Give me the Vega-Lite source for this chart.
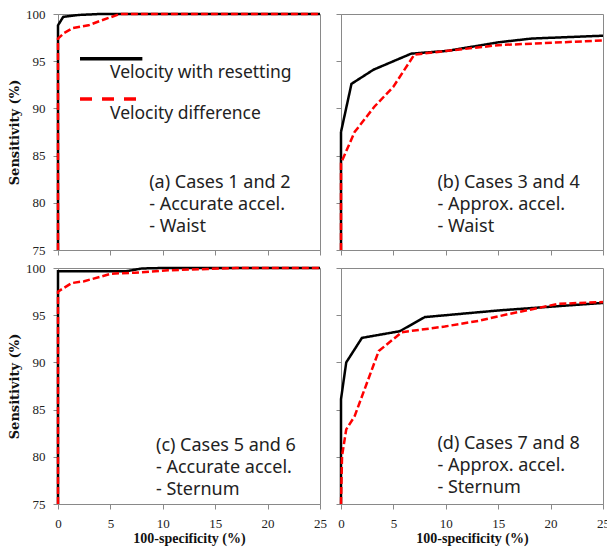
{
  "$schema": "https://vega.github.io/schema/vega-lite/v6.json",
  "padding": {"left": 8, "top": 7, "right": 0, "bottom": 5},
  "autosize": {"type": "pad"},
  "background": "white",
  "datasets": {
    "roc": [
      {"panel": "a", "series": "Velocity with resetting", "i": 0, "x": 0, "y": 75},
      {"panel": "a", "series": "Velocity with resetting", "i": 1, "x": 0, "y": 98.8},
      {"panel": "a", "series": "Velocity with resetting", "i": 2, "x": 0.5, "y": 99.7},
      {"panel": "a", "series": "Velocity with resetting", "i": 3, "x": 2, "y": 99.9},
      {"panel": "a", "series": "Velocity with resetting", "i": 4, "x": 4, "y": 100},
      {"panel": "a", "series": "Velocity with resetting", "i": 5, "x": 25, "y": 100},
      {"panel": "a", "series": "Velocity difference", "i": 0, "x": 0, "y": 75},
      {"panel": "a", "series": "Velocity difference", "i": 1, "x": 0, "y": 97.4},
      {"panel": "a", "series": "Velocity difference", "i": 2, "x": 0.6, "y": 98},
      {"panel": "a", "series": "Velocity difference", "i": 3, "x": 1.4, "y": 98.5},
      {"panel": "a", "series": "Velocity difference", "i": 4, "x": 2.9, "y": 98.8},
      {"panel": "a", "series": "Velocity difference", "i": 5, "x": 4.1, "y": 99.3},
      {"panel": "a", "series": "Velocity difference", "i": 6, "x": 5.9, "y": 100},
      {"panel": "a", "series": "Velocity difference", "i": 7, "x": 25, "y": 100},

      {"panel": "b", "series": "Velocity with resetting", "i": 0, "x": 0, "y": 75},
      {"panel": "b", "series": "Velocity with resetting", "i": 1, "x": 0, "y": 87.5},
      {"panel": "b", "series": "Velocity with resetting", "i": 2, "x": 1, "y": 92.6},
      {"panel": "b", "series": "Velocity with resetting", "i": 3, "x": 3.1, "y": 94.1},
      {"panel": "b", "series": "Velocity with resetting", "i": 4, "x": 6.7, "y": 95.8},
      {"panel": "b", "series": "Velocity with resetting", "i": 5, "x": 10.2, "y": 96.1},
      {"panel": "b", "series": "Velocity with resetting", "i": 6, "x": 15, "y": 97},
      {"panel": "b", "series": "Velocity with resetting", "i": 7, "x": 18.2, "y": 97.4},
      {"panel": "b", "series": "Velocity with resetting", "i": 8, "x": 25, "y": 97.7},
      {"panel": "b", "series": "Velocity difference", "i": 0, "x": 0, "y": 75},
      {"panel": "b", "series": "Velocity difference", "i": 1, "x": 0, "y": 84.2},
      {"panel": "b", "series": "Velocity difference", "i": 2, "x": 1.3, "y": 87.5},
      {"panel": "b", "series": "Velocity difference", "i": 3, "x": 3.2, "y": 90.2},
      {"panel": "b", "series": "Velocity difference", "i": 4, "x": 5, "y": 92.3},
      {"panel": "b", "series": "Velocity difference", "i": 5, "x": 7, "y": 95.7},
      {"panel": "b", "series": "Velocity difference", "i": 6, "x": 10.2, "y": 96.1},
      {"panel": "b", "series": "Velocity difference", "i": 7, "x": 15, "y": 96.7},
      {"panel": "b", "series": "Velocity difference", "i": 8, "x": 25, "y": 97.2},

      {"panel": "c", "series": "Velocity with resetting", "i": 0, "x": 0, "y": 75},
      {"panel": "c", "series": "Velocity with resetting", "i": 1, "x": 0, "y": 99.65},
      {"panel": "c", "series": "Velocity with resetting", "i": 2, "x": 6.5, "y": 99.65},
      {"panel": "c", "series": "Velocity with resetting", "i": 3, "x": 8, "y": 99.95},
      {"panel": "c", "series": "Velocity with resetting", "i": 4, "x": 10, "y": 100},
      {"panel": "c", "series": "Velocity with resetting", "i": 5, "x": 25, "y": 100},
      {"panel": "c", "series": "Velocity difference", "i": 0, "x": 0, "y": 75},
      {"panel": "c", "series": "Velocity difference", "i": 1, "x": 0, "y": 97.5},
      {"panel": "c", "series": "Velocity difference", "i": 2, "x": 1.3, "y": 98.4},
      {"panel": "c", "series": "Velocity difference", "i": 3, "x": 2.5, "y": 98.6},
      {"panel": "c", "series": "Velocity difference", "i": 4, "x": 5.1, "y": 99.4},
      {"panel": "c", "series": "Velocity difference", "i": 5, "x": 7.3, "y": 99.5},
      {"panel": "c", "series": "Velocity difference", "i": 6, "x": 10.5, "y": 99.75},
      {"panel": "c", "series": "Velocity difference", "i": 7, "x": 14.3, "y": 99.9},
      {"panel": "c", "series": "Velocity difference", "i": 8, "x": 17, "y": 100},
      {"panel": "c", "series": "Velocity difference", "i": 9, "x": 25, "y": 100},

      {"panel": "d", "series": "Velocity with resetting", "i": 0, "x": 0, "y": 75},
      {"panel": "d", "series": "Velocity with resetting", "i": 1, "x": 0, "y": 86.1},
      {"panel": "d", "series": "Velocity with resetting", "i": 2, "x": 0.5, "y": 90},
      {"panel": "d", "series": "Velocity with resetting", "i": 3, "x": 2, "y": 92.6},
      {"panel": "d", "series": "Velocity with resetting", "i": 4, "x": 5.6, "y": 93.3},
      {"panel": "d", "series": "Velocity with resetting", "i": 5, "x": 8, "y": 94.8},
      {"panel": "d", "series": "Velocity with resetting", "i": 6, "x": 15, "y": 95.5},
      {"panel": "d", "series": "Velocity with resetting", "i": 7, "x": 25, "y": 96.3},
      {"panel": "d", "series": "Velocity difference", "i": 0, "x": 0, "y": 75},
      {"panel": "d", "series": "Velocity difference", "i": 1, "x": 0.1, "y": 80.1},
      {"panel": "d", "series": "Velocity difference", "i": 2, "x": 0.5, "y": 82.9},
      {"panel": "d", "series": "Velocity difference", "i": 3, "x": 1.3, "y": 84.3},
      {"panel": "d", "series": "Velocity difference", "i": 4, "x": 3.6, "y": 91.2},
      {"panel": "d", "series": "Velocity difference", "i": 5, "x": 5.8, "y": 93.2},
      {"panel": "d", "series": "Velocity difference", "i": 6, "x": 9.9, "y": 93.8},
      {"panel": "d", "series": "Velocity difference", "i": 7, "x": 13.1, "y": 94.4},
      {"panel": "d", "series": "Velocity difference", "i": 8, "x": 15.9, "y": 95.1},
      {"panel": "d", "series": "Velocity difference", "i": 9, "x": 20.7, "y": 96.2},
      {"panel": "d", "series": "Velocity difference", "i": 10, "x": 25, "y": 96.4}
    ],
    "notes": [
      {"panel": "a", "text": "(a) Cases 1 and 2\n- Accurate accel.\n- Waist"},
      {"panel": "b", "text": "(b) Cases 3 and 4\n- Approx. accel.\n- Waist"},
      {"panel": "c", "text": "(c) Cases 5 and 6\n- Accurate accel.\n- Sternum"},
      {"panel": "d", "text": "(d) Cases 7 and 8\n- Approx. accel.\n- Sternum"}
    ],
    "legend": [
      {"series": "Velocity with resetting"},
      {"series": "Velocity difference"}
    ]
  },
  "columns": 2,
  "spacing": {"row": 18, "column": 21},
  "bounds": "flush",
  "concat": [
    {
      "width": 262, "height": 236,
      "layer": [
        {
          "data": {"name": "roc"},
          "transform": [{"filter": "datum.panel === 'a'"}],
          "mark": {"type": "line", "strokeWidth": 2.5},
          "encoding": {
            "x": {"field": "x", "type": "quantitative", "scale": {"domain": [0, 25], "nice": false}, "axis": {"values": [0, 5, 10, 15, 20, 25], "labels": false, "title": null}},
            "y": {"field": "y", "type": "quantitative", "scale": {"domain": [75, 100], "nice": false, "zero": false}, "axis": {"values": [75, 80, 85, 90, 95, 100], "title": "Sensitivity (%)"}},
            "color": {"field": "series", "type": "nominal", "scale": {"domain": ["Velocity with resetting", "Velocity difference"], "range": ["#000000", "#ff0000"]}, "legend": null},
            "strokeDash": {"field": "series", "type": "nominal", "scale": {"domain": ["Velocity with resetting", "Velocity difference"], "range": [[1, 0], [7, 3]]}, "legend": null},
            "order": {"field": "i", "type": "quantitative"}
          }
        },
        {
          "data": {"name": "legend"},
          "transform": [{"filter": "datum.series === 'Velocity with resetting'"}],
          "mark": {"type": "rule", "strokeWidth": 3.5},
          "encoding": {
            "x": {"datum": 2.1, "type": "quantitative"},
            "x2": {"datum": 8.05},
            "y": {"datum": 95.25, "type": "quantitative"},
            "color": {"field": "series", "type": "nominal", "legend": null}
          }
        },
        {
          "data": {"name": "legend"},
          "transform": [{"filter": "datum.series === 'Velocity difference'"}],
          "mark": {"type": "rule", "strokeWidth": 3.5, "strokeDash": [12, 10]},
          "encoding": {
            "x": {"datum": 2.1, "type": "quantitative"},
            "x2": {"datum": 8.05},
            "y": {"datum": 91.0, "type": "quantitative"},
            "color": {"field": "series", "type": "nominal", "legend": null}
          }
        },
        {
          "data": {"name": "legend"},
          "transform": [{"filter": "datum.series === 'Velocity with resetting'"}],
          "mark": {"type": "text", "align": "left", "baseline": "middle", "font": "Noto Sans", "fontSize": 17.5, "color": "#222222"},
          "encoding": {
            "x": {"datum": 4.96, "type": "quantitative"},
            "y": {"datum": 93.7, "type": "quantitative"},
            "text": {"field": "series"}
          }
        },
        {
          "data": {"name": "legend"},
          "transform": [{"filter": "datum.series === 'Velocity difference'"}],
          "mark": {"type": "text", "align": "left", "baseline": "middle", "font": "Noto Sans", "fontSize": 17.5, "color": "#222222"},
          "encoding": {
            "x": {"datum": 4.96, "type": "quantitative"},
            "y": {"datum": 89.4, "type": "quantitative"},
            "text": {"field": "series"}
          }
        },
        {
          "data": {"name": "notes"},
          "transform": [{"filter": "datum.panel === 'a'"}],
          "mark": {"type": "text", "align": "left", "baseline": "top", "lineBreak": "\n", "font": "Noto Sans", "fontSize": 18, "lineHeight": 22, "color": "#222222"},
          "encoding": {
            "x": {"datum": 8.7, "type": "quantitative"},
            "y": {"datum": 83.0, "type": "quantitative"},
            "text": {"field": "text"}
          }
        }
      ]
    },
    {
      "width": 262, "height": 236,
      "layer": [
        {
          "data": {"name": "roc"},
          "transform": [{"filter": "datum.panel === 'b'"}],
          "mark": {"type": "line", "strokeWidth": 2.5},
          "encoding": {
            "x": {"field": "x", "type": "quantitative", "scale": {"domain": [0, 25], "nice": false}, "axis": {"values": [0, 5, 10, 15, 20, 25], "labels": false, "title": null}},
            "y": {"field": "y", "type": "quantitative", "scale": {"domain": [75, 100], "nice": false, "zero": false}, "axis": {"values": [75, 80, 85, 90, 95, 100], "labels": false, "title": null}},
            "color": {"field": "series", "type": "nominal", "scale": {"domain": ["Velocity with resetting", "Velocity difference"], "range": ["#000000", "#ff0000"]}, "legend": null},
            "strokeDash": {"field": "series", "type": "nominal", "scale": {"domain": ["Velocity with resetting", "Velocity difference"], "range": [[1, 0], [7, 3]]}, "legend": null},
            "order": {"field": "i", "type": "quantitative"}
          }
        },
        {
          "data": {"name": "notes"},
          "transform": [{"filter": "datum.panel === 'b'"}],
          "mark": {"type": "text", "align": "left", "baseline": "top", "lineBreak": "\n", "font": "Noto Sans", "fontSize": 18, "lineHeight": 22, "color": "#222222"},
          "encoding": {
            "x": {"datum": 9.2, "type": "quantitative"},
            "y": {"datum": 83.0, "type": "quantitative"},
            "text": {"field": "text"}
          }
        }
      ]
    },
    {
      "width": 262, "height": 236,
      "layer": [
        {
          "data": {"name": "roc"},
          "transform": [{"filter": "datum.panel === 'c'"}],
          "mark": {"type": "line", "strokeWidth": 2.5},
          "encoding": {
            "x": {"field": "x", "type": "quantitative", "scale": {"domain": [0, 25], "nice": false}, "axis": {"values": [0, 5, 10, 15, 20, 25], "title": "100-specificity (%)"}},
            "y": {"field": "y", "type": "quantitative", "scale": {"domain": [75, 100], "nice": false, "zero": false}, "axis": {"values": [75, 80, 85, 90, 95, 100], "title": "Sensitivity (%)"}},
            "color": {"field": "series", "type": "nominal", "scale": {"domain": ["Velocity with resetting", "Velocity difference"], "range": ["#000000", "#ff0000"]}, "legend": null},
            "strokeDash": {"field": "series", "type": "nominal", "scale": {"domain": ["Velocity with resetting", "Velocity difference"], "range": [[1, 0], [7, 3]]}, "legend": null},
            "order": {"field": "i", "type": "quantitative"}
          }
        },
        {
          "data": {"name": "notes"},
          "transform": [{"filter": "datum.panel === 'c'"}],
          "mark": {"type": "text", "align": "left", "baseline": "top", "lineBreak": "\n", "font": "Noto Sans", "fontSize": 18, "lineHeight": 22, "color": "#222222"},
          "encoding": {
            "x": {"datum": 9.35, "type": "quantitative"},
            "y": {"datum": 82.1, "type": "quantitative"},
            "text": {"field": "text"}
          }
        }
      ]
    },
    {
      "width": 262, "height": 236,
      "layer": [
        {
          "data": {"name": "roc"},
          "transform": [{"filter": "datum.panel === 'd'"}],
          "mark": {"type": "line", "strokeWidth": 2.5},
          "encoding": {
            "x": {"field": "x", "type": "quantitative", "scale": {"domain": [0, 25], "nice": false}, "axis": {"values": [0, 5, 10, 15, 20, 25], "title": "100-specificity (%)"}},
            "y": {"field": "y", "type": "quantitative", "scale": {"domain": [75, 100], "nice": false, "zero": false}, "axis": {"values": [75, 80, 85, 90, 95, 100], "labels": false, "title": null}},
            "color": {"field": "series", "type": "nominal", "scale": {"domain": ["Velocity with resetting", "Velocity difference"], "range": ["#000000", "#ff0000"]}, "legend": null},
            "strokeDash": {"field": "series", "type": "nominal", "scale": {"domain": ["Velocity with resetting", "Velocity difference"], "range": [[1, 0], [7, 3]]}, "legend": null},
            "order": {"field": "i", "type": "quantitative"}
          }
        },
        {
          "data": {"name": "notes"},
          "transform": [{"filter": "datum.panel === 'd'"}],
          "mark": {"type": "text", "align": "left", "baseline": "top", "lineBreak": "\n", "font": "Noto Sans", "fontSize": 18, "lineHeight": 22, "color": "#222222"},
          "encoding": {
            "x": {"datum": 9.2, "type": "quantitative"},
            "y": {"datum": 82.3, "type": "quantitative"},
            "text": {"field": "text"}
          }
        }
      ]
    }
  ],
  "config": {
    "view": {"stroke": "#898989", "strokeWidth": 1},
    "axis": {
      "grid": false,
      "domainColor": "#898989",
      "tickColor": "#898989",
      "tickSize": 5,
      "labelFlush": false,
      "labelFont": "Liberation Serif",
      "labelFontSize": 13,
      "labelColor": "#222222",
      "titleFontWeight": "bold",
      "titleColor": "#111111"
    },
    "axisX": {"labelPadding": 8, "titlePadding": 1, "titleFont": "Liberation Serif", "titleFontSize": 14},
    "axisY": {"labelPadding": 8, "titlePadding": 4, "titleFont": "DejaVu Serif", "titleFontSize": 13}
  }
}
